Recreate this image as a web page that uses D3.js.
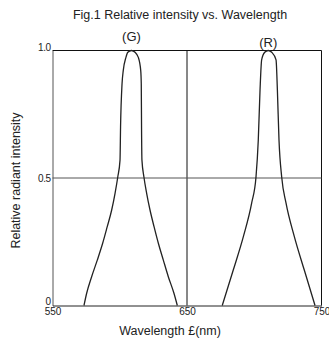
<!DOCTYPE html>
<html>
<head>
<meta charset="utf-8">
<script src="https://cdn.jsdelivr.net/npm/d3@7"></script>
<style>
  body { margin: 0; background: #fff; }
  text { font-family: "Liberation Sans", Arial, sans-serif; fill: #222; }
</style>
</head>
<body>
<div id="chart"></div>
<script>
// spectrum: wavelength (nm) and relative intensity
const gWave = [573.4, 575.4, 579.1, 583.3, 587.3, 590.7, 594, 596.5, 598.5, 600.2, 600.6, 601.7, 602.6, 604.6, 606.0, 608.7,
               611.4, 613.8, 615.6, 616.0, 616.2, 616.5, 618, 620, 622.5, 625.5, 628.7, 632.4, 636.1, 640.3, 642.8];
const gRel  = [0, 0.048, 0.113, 0.178, 0.244, 0.309, 0.3745, 0.44, 0.503, 0.57, 0.7, 0.869, 0.921, 0.973, 0.993, 1.0,
               0.993, 0.973, 0.921, 0.869, 0.7, 0.57, 0.503, 0.44, 0.3745, 0.309, 0.244, 0.178, 0.113, 0.048, 0];
const rWave = [676.2, 684.4, 691.9, 698.1, 701.3, 703.0, 704.3, 705.5, 707.8, 710.4, 713.0, 716.2, 717.2, 718.4, 720.4, 723.6, 729.8, 737.2, 745.2];
const rRel  = [0, 0.139, 0.27, 0.402, 0.504, 0.649, 0.845, 0.963, 0.993, 1.0, 0.993, 0.963, 0.845, 0.649, 0.504, 0.402, 0.27, 0.139, 0];
const xTicks = [550, 650, 750];
const yTicks = [0, 0.5, 1.0];
const yTickLabels = ["0", "0.5", "1.0"];

const width = 329, height = 345;

const svg = d3.select("#chart")
  .append("svg")
  .attr("width", width)
  .attr("height", height);

const x = d3.scaleLinear().domain([550, 750]).range([52.5, 321.5]);
const y = d3.scaleLinear().domain([0, 1]).range([305.5, 50.5]);

// grid / frame
svg.append("line")
  .attr("x1", x(550)).attr("x2", x(750)).attr("y1", y(1)).attr("y2", y(1))
  .attr("stroke", "#111");
svg.append("line")
  .attr("x1", x(750)).attr("x2", x(750)).attr("y1", y(0)).attr("y2", y(1))
  .attr("stroke", "#111");
svg.append("line")
  .attr("x1", x(650)).attr("x2", x(650)).attr("y1", y(0)).attr("y2", y(1))
  .attr("stroke", "#111");
svg.append("line")
  .attr("x1", x(550)).attr("x2", x(750)).attr("y1", y(0.5)).attr("y2", y(0.5))
  .attr("stroke", "#555");

// Y axis
const yAxis = svg.append("g")
  .attr("transform", `translate(${x(550)},0)`)
  .call(d3.axisLeft(y).tickValues(yTicks).tickSize(0).tickPadding(2)
    .tickFormat((d, i) => yTickLabels[i]));
yAxis.select(".domain").attr("stroke", "#555");
yAxis.selectAll("text")
  .style("font-size", "10px").style("letter-spacing", "-0.5px")
  .attr("dy", d => d === 0.5 ? "0.3em" : (d === 0 ? "-0.15em" : "0"));

// X axis
const xAxis = svg.append("g")
  .attr("transform", `translate(0,${y(0)})`)
  .call(d3.axisBottom(x).tickValues(xTicks).tickSize(0).tickPadding(2));
xAxis.select(".domain").attr("stroke", "#222");
xAxis.selectAll("text").style("font-size", "10px");

// curves
const line = d3.line()
  .x(d => x(d[0]))
  .y(d => y(d[1]))
  .curve(d3.curveMonotoneX);

[[gWave, gRel], [rWave, rRel]].forEach(([w, r]) => {
  svg.append("path")
    .datum(w.map((v, i) => [v, r[i]]))
    .attr("d", line)
    .attr("fill", "none")
    .attr("stroke", "#222")
    .attr("stroke-width", 1.3);
});

// peak labels
svg.append("text").attr("x", x(608.7)).attr("y", 41)
  .attr("text-anchor", "middle").style("font-size", "13px").text("(G)");
svg.append("text").attr("x", x(710.4)).attr("y", 47)
  .attr("text-anchor", "middle").style("font-size", "13px").text("(R)");

// titles
svg.append("text").attr("x", 180).attr("y", 18.5)
  .attr("text-anchor", "middle").style("font-size", "12.5px")
  .text("Fig.1 Relative intensity vs. Wavelength");
svg.append("text").attr("x", 170).attr("y", 335)
  .attr("text-anchor", "middle").style("font-size", "12.5px")
  .text("Wavelength £(nm)");
svg.append("text")
  .attr("transform", "translate(19.5,180.5) rotate(-90)")
  .attr("text-anchor", "middle").style("font-size", "12.5px")
  .text("Relative radiant intensity");
</script>
</body>
</html>
